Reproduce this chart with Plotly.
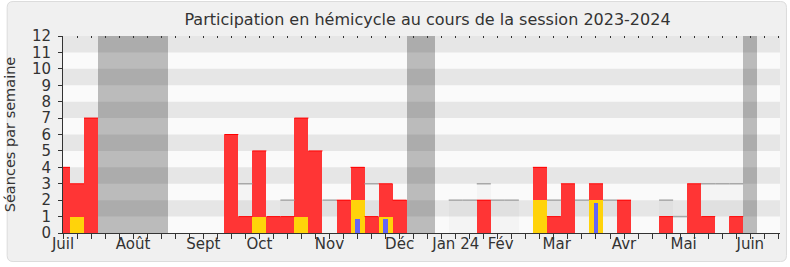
import plotly.graph_objects as go

# ---------------- data (one entry per week, week 0 = first week of July 2023)
weeks = list(range(52))
red = [4, 3, 7, 0, 0, 0, 0, 0, 0, 0, 0, 0, 6, 1, 5, 1, 1, 7, 5, 0,
       2, 4, 1, 3, 2, 0, 0, 0, 0, 0, 2, 0, 0, 0, 4, 1, 3, 0, 3, 0,
       2, 0, 0, 1, 0, 3, 1, 0, 1, 0, 0, 0]
yellow = [0, 1, 0, 0, 0, 0, 0, 0, 0, 0, 0, 0, 0, 0, 1, 0, 0, 1, 0, 0,
          0, 2, 0, 1, 0, 0, 0, 0, 0, 0, 0, 0, 0, 0, 2, 0, 0, 0, 2, 0,
          0, 0, 0, 0, 0, 0, 0, 0, 0, 0, 0, 0]
blue = [0, 0, 0, 0, 0, 0, 0, 0, 0, 0, 0, 0, 0, 0, 0, 0, 0, 0, 0, 0,
        0, 0.85, 0, 0.85, 0, 0, 0, 0, 0, 0, 0, 0, 0, 0, 0, 0, 0, 0, 1.85, 0,
        0, 0, 0, 0, 0, 0, 0, 0, 0, 0, 0, 0]
median = [0, 0, 0, 0, 0, 0, 0, 0, 0, 0, 0, 0, 0, 3, 0, 0, 2, 0, 0, 2,
          0, 0, 3, 0, 0, 0, 0, 0, 2, 2, 3, 2, 2, 0, 0, 2, 0, 2, 0, 2,
          0, 0, 0, 2, 1, 0, 3, 3, 3, 0, 0, 0]
vacation = [0, 0, 0, 1, 1, 1, 1, 1, 0, 0, 0, 0, 0, 0, 0, 0, 0, 0, 0, 0,
            0, 0, 0, 0, 0, 1, 1, 0, 0, 0, 0, 0, 0, 0, 0, 0, 0, 0, 0, 0,
            0, 0, 0, 0, 0, 0, 0, 0, 0, 1, 0, 0]
month_labels = ["Juil", "Août", "Sept", "Oct", "Nov", "Déc", "Jan 24",
                "Fév", "Mar", "Avr", "Mai", "Juin"]
month_pos = [0, 5, 10, 14, 19, 24, 28, 31.2, 35.2, 40, 44.25, 49]
y_ticks = list(range(13))
y_max = 12

# ---------------- geometry / styles
W, H = 790, 267
ML, MR, MT, MB = 61, 10, 36, 34
FONT = "DejaVu Sans"
TXT = "#333333"
X_RANGE = [0, 51.12]


def px_x(p):
    return (p - ML) / (W - ML - MR)


def px_y(p):
    return (H - MB - p) / (H - MT - MB)


def sel(vals):
    xs = [w for w, v in zip(weeks, vals) if v]
    ys = [v for v in vals if v]
    return xs, ys


def tops(vals):
    xs, ys = [], []
    for w, v in zip(weeks, vals):
        if v:
            xs += [w - 0.5, w + 0.5, None]
            ys += [v, v, None]
    return xs, ys


fig = go.Figure()

vx, _ = sel(vacation)
fig.add_trace(go.Bar(x=vx, y=[y_max] * len(vx), width=1,
                     marker=dict(color="rgba(0,0,0,0.25)", line=dict(width=0)),
                     hoverinfo="skip", showlegend=False))

mx, my = sel(median)
fig.add_trace(go.Bar(x=mx, y=my, width=1,
                     marker=dict(color="rgba(0,0,0,0.025)", line=dict(width=0)),
                     showlegend=False))

rx, ry = sel(red)
fig.add_trace(go.Bar(x=rx, y=ry, width=1,
                     marker=dict(color="#FF3535", line=dict(width=0)),
                     showlegend=False))

yx, yy = sel(yellow)
fig.add_trace(go.Bar(x=yx, y=yy, width=1,
                     marker=dict(color="#FFD30A", line=dict(width=0)),
                     showlegend=False))

bx, by = sel(blue)
fig.add_trace(go.Bar(x=bx, y=by, width=0.3,
                     marker=dict(color="#6464F5", line=dict(width=0)),
                     showlegend=False))

tx, ty = tops(median)
fig.add_trace(go.Scatter(x=tx, y=ty, mode="lines", xaxis="x2",
                         line=dict(color="#A8A8A8", width=1.5),
                         hoverinfo="skip", showlegend=False))

tx, ty = tops(red)
fig.add_trace(go.Scatter(x=tx, y=ty, mode="lines", xaxis="x3",
                         line=dict(color="#FF0000", width=1),
                         hoverinfo="skip", showlegend=False))

# ---------------- background: frame, plot bg, stripes
shapes = []
x0, x1, y0, y1, r = px_x(5), px_x(786.5), px_y(1.5), px_y(261.5), 6
rx_, ry_ = r / (W - ML - MR), r / (H - MT - MB)
path = (f"M {x0+rx_},{y0} L {x1-rx_},{y0} Q {x1},{y0} {x1},{y0-ry_} "
        f"L {x1},{y1+ry_} Q {x1},{y1} {x1-rx_},{y1} L {x0+rx_},{y1} "
        f"Q {x0},{y1} {x0},{y1+ry_} L {x0},{y0-ry_} Q {x0},{y0} {x0+rx_},{y0} Z")
shapes.append(dict(type="path", path=path, xref="paper", yref="paper",
                   fillcolor="#F0F0F0", line=dict(color="#DCDCDC", width=1),
                   layer="below"))
shapes.append(dict(type="rect", xref="paper", yref="paper", x0=0, x1=1, y0=0, y1=1,
                   fillcolor="#FAFAFA", line=dict(width=0), layer="below"))
for k in range(1, y_max, 2):
    shapes.append(dict(type="rect", xref="paper", yref="y", x0=0, x1=1, y0=k, y1=k + 1,
                       fillcolor="#E6E6E6", line=dict(width=0), layer="below"))

fig.update_layout(
    width=W, height=H, autosize=False,
    margin=dict(l=ML, r=MR, t=MT, b=MB, pad=0),
    paper_bgcolor="white", plot_bgcolor="rgba(0,0,0,0)",
    barmode="overlay", bargap=0,
    font=dict(family=FONT, color=TXT, size=15),
    title=dict(text="Participation en hémicycle au cours de la session 2023-2024",
               font=dict(size=16, color=TXT, family=FONT),
               xref="container", x=427.5 / W, xanchor="center",
               yref="container", y=1 - 19 / H, yanchor="middle"),
    shapes=shapes,
    xaxis=dict(range=X_RANGE, showgrid=False, zeroline=False,
               tickmode="array", tickvals=weeks, ticktext=[""] * len(weeks),
               ticks="outside", ticklen=5, tickcolor=TXT, tickwidth=1,
               showline=True, linecolor=TXT, linewidth=1),
    xaxis2=dict(range=X_RANGE, overlaying="x", anchor="y", side="bottom",
                showgrid=False, zeroline=False, showline=False,
                tickmode="array", tickvals=month_pos, ticktext=month_labels,
                ticks="", tickfont=dict(size=15, color=TXT, family=FONT)),
    xaxis3=dict(range=X_RANGE, overlaying="x", anchor="y", side="top",
                showgrid=False, zeroline=False, showline=False,
                tickmode="array", tickvals=weeks, ticktext=[""] * len(weeks),
                ticks="inside", ticklen=2, tickcolor=TXT, tickwidth=1),
    yaxis=dict(range=[0, y_max], showgrid=False, zeroline=False,
               tickmode="array", tickvals=y_ticks,
               ticks="outside", ticklen=4, tickcolor=TXT, tickwidth=1,
               ticklabelstandoff=4,
               tickfont=dict(size=15, color=TXT, family=FONT),
               showline=True, linecolor=TXT, linewidth=1,
               title=dict(text="Séances par semaine", standoff=12,
                          font=dict(size=14.5, color=TXT, family=FONT))),
)

fig.write_html("out.html")
